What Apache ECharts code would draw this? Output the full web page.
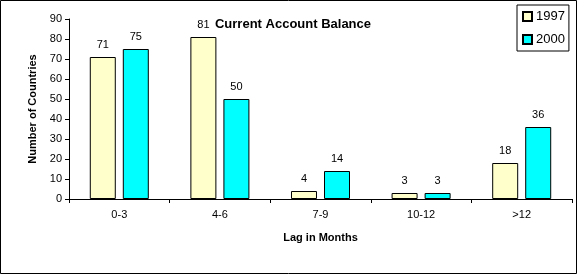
<!DOCTYPE html>
<html><head><meta charset="utf-8">
<script src="https://cdn.jsdelivr.net/npm/echarts@6/dist/echarts.min.js"></script>
<style>html,body{margin:0;padding:0;background:#fff}#c{width:578px;height:275px}</style>
</head><body><div id="c"></div>
<script>
const categories = ['0-3', '4-6', '7-9', '10-12', '>12'];
const values1997 = [71, 81, 4, 3, 18];
const values2000 = [75, 50, 14, 3, 36];
const yTicks = [0, 10, 20, 30, 40, 50, 60, 70, 80, 90];

const font = 'Arial, "Liberation Sans", sans-serif';
const chart = echarts.init(document.getElementById('c'), null, {renderer: 'canvas'});
const lbl = {show: true, position: 'top', distance: 7, color: '#000', fontSize: 11, fontFamily: font};
chart.setOption({
  animation: false,
  backgroundColor: '#fff',
  graphic: [{type: 'rect', shape: {x: 0.5, y: 0.5, width: 576, height: 273}, style: {fill: 'none', stroke: '#000', lineWidth: 1}, silent: true}],
  title: {text: 'Current Account Balance', left: 288, top: 13, textAlign: 'center',
    textStyle: {fontFamily: font, fontSize: 13, fontWeight: 'bold', color: '#000'}},
  legend: {orient: 'vertical', left: 517, top: 5, padding: [5, 4, 5, 5], borderColor: '#000', borderWidth: 1,
    itemWidth: 9, itemHeight: 9, itemGap: 10, icon: 'rect',
    textStyle: {fontFamily: font, fontSize: 13, color: '#000', lineHeight: 13, padding: [0, 0, 0, -1]},
    data: ['1997', '2000']},
  grid: {left: 69, right: 6, top: 19, bottom: 76, containLabel: false},
  xAxis: {type: 'category', data: categories,
    name: 'Lag in Months', nameLocation: 'middle', nameGap: 33,
    nameTextStyle: {fontFamily: font, fontSize: 11, fontWeight: 'bold', color: '#000'},
    axisLine: {lineStyle: {color: '#000', width: 1}},
    axisTick: {show: true, length: 4, inside: false, lineStyle: {color: '#000'}},
    axisLabel: {fontFamily: font, fontSize: 11, color: '#000', margin: 10}},
  yAxis: {type: 'value', min: yTicks[0], max: yTicks[yTicks.length - 1], interval: 10,
    name: 'Number of Countries', nameLocation: 'middle', nameGap: 28, nameRotate: 90,
    nameTextStyle: {fontFamily: font, fontSize: 11, fontWeight: 'bold', color: '#000'},
    axisLine: {show: true, lineStyle: {color: '#000', width: 1}},
    axisTick: {show: true, length: 4, lineStyle: {color: '#000'}},
    splitLine: {show: false},
    axisLabel: {fontFamily: font, fontSize: 11, color: '#000', margin: 7}},
  series: [
    {name: '1997', type: 'bar', data: values1997, barWidth: 26, barGap: '27%',
      itemStyle: {color: '#FFFFCC', borderColor: '#000', borderWidth: 1}, label: lbl},
    {name: '2000', type: 'bar', data: values2000, barWidth: 26,
      itemStyle: {color: '#00FFFF', borderColor: '#000', borderWidth: 1}, label: lbl}
  ]
});
</script></body></html>
